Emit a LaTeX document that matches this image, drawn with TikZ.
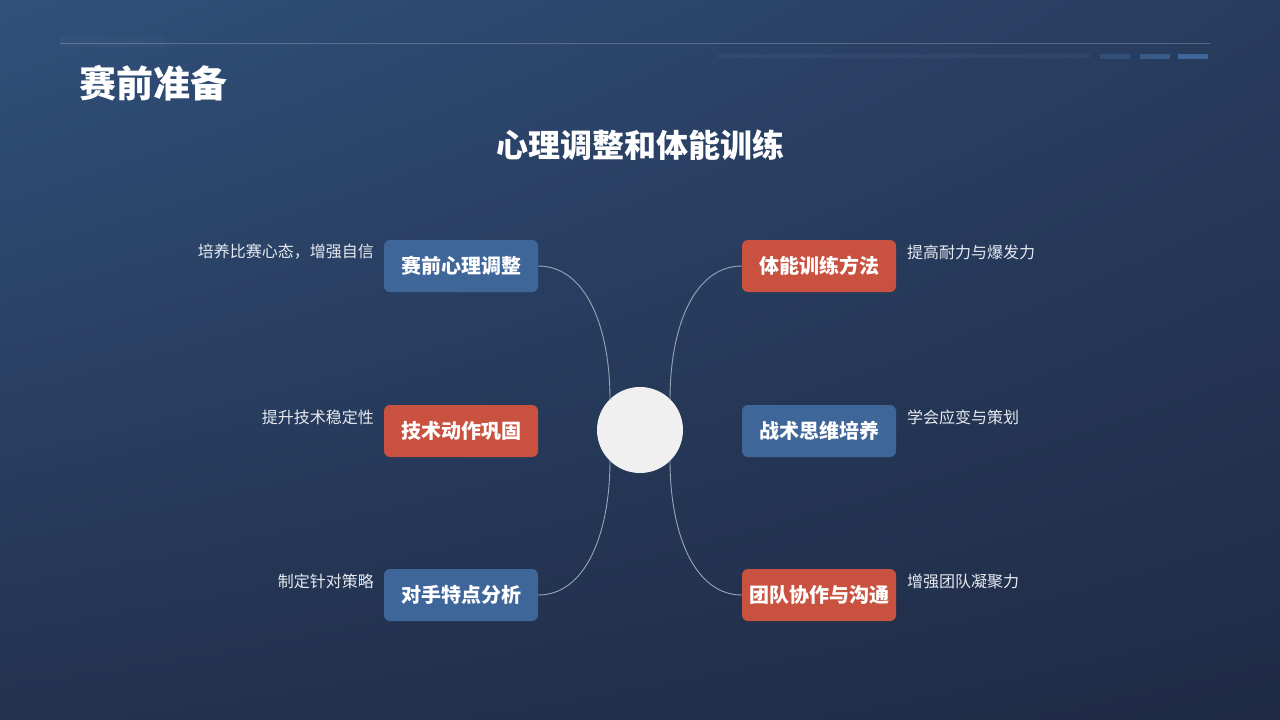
\documentclass[tikz,border=0pt]{standalone}
\usepackage{fontspec}
\usetikzlibrary{shadings}
\setmainfont{Noto Sans CJK SC}
\definecolor{bgTL}{HTML}{30507A}
\definecolor{bgTR}{HTML}{283C5E}
\definecolor{bgBL}{HTML}{23324F}
\definecolor{bgBR}{HTML}{1F2B45}
\definecolor{boxblue}{HTML}{3F6699}
\definecolor{boxred}{HTML}{C9513F}
\definecolor{linecol}{HTML}{9AA6B8}
\definecolor{labelcol}{HTML}{E6EAF0}
\tikzset{
  topic/.style={rounded corners=6pt, minimum width=154pt, minimum height=52pt, inner sep=0pt, text=white, font=\fontsize{20}{23}\selectfont\bfseries},
  bluebox/.style={topic, fill=boxblue},
  redbox/.style={topic, fill=boxred},
  lbl/.style={text=labelcol, font=\fontsize{16}{19}\selectfont, inner sep=0pt},
  conn/.style={draw=linecol, line width=0.9pt},
}
\begin{document}
\begin{tikzpicture}[x=1pt,y=-1pt]
\useasboundingbox (0,0) rectangle (1280,720);
\shade[upper left=bgTL, upper right=bgTR, lower left=bgBL, lower right=bgBR] (0,0) rectangle (1280,720);
% decorations
\fill[white, opacity=0.025] (60,36) rectangle (165,47);
\draw[white, opacity=0.22, line width=1pt] (60,43) -- (1210,43);
\fill[white, opacity=0.04] (718,54) rectangle (1090,58);
\fill[boxblue, opacity=0.45] (1100,54) rectangle (1130,59);
\fill[boxblue, opacity=0.75] (1140,54) rectangle (1170,59);
\fill[boxblue] (1178,54) rectangle (1208,59);
% titles
\node[anchor=west, text=white, font=\fontsize{37}{41}\selectfont\bfseries, inner sep=0pt] (title) at (79,83) {赛前准备};
\node[text=white, font=\fontsize{32}{37}\selectfont\bfseries, inner sep=0pt] (sub) at (640,145) {心理调整和体能训练};
% center
\node[circle, fill=white!94!black, minimum size=86pt, inner sep=0pt] (c) at (640,430) {};
% boxes
\node[bluebox] (b1) at (461,266) {赛前心理调整};
\node[redbox] (b2) at (461,431) {技术动作巩固};
\node[bluebox] (b3) at (461,595) {对手特点分析};
\node[redbox] (b4) at (819,266) {体能训练方法};
\node[bluebox] (b5) at (819,431) {战术思维培养};
\node[redbox] (b6) at (819,595) {团队协作与沟通};
% connector anchors
\coordinate (cl1) at (610,400);
\coordinate (cl3) at (610,460);
\coordinate (cr4) at (670,400);
\coordinate (cr6) at (670,460);
\draw[conn] (b1.east) .. controls (585,266) and (610,325) .. (cl1);
\draw[conn] (b3.east) .. controls (585,595) and (610,535) .. (cl3);
\draw[conn] (b4.west) .. controls (695,266) and (670,325) .. (cr4);
\draw[conn] (b6.west) .. controls (695,595) and (670,535) .. (cr6);
% labels
\node[lbl, anchor=east] (l1) at (374,252) {培养比赛心态，增强自信};
\node[lbl, anchor=east] (l2) at (374,417) {提升技术稳定性};
\node[lbl, anchor=east] (l3) at (374,581) {制定针对策略};
\node[lbl, anchor=west] (l4) at (907,252) {提高耐力与爆发力};
\node[lbl, anchor=west] (l5) at (907,417) {学会应变与策划};
\node[lbl, anchor=west] (l6) at (907,581) {增强团队凝聚力};
\end{tikzpicture}
\end{document}
